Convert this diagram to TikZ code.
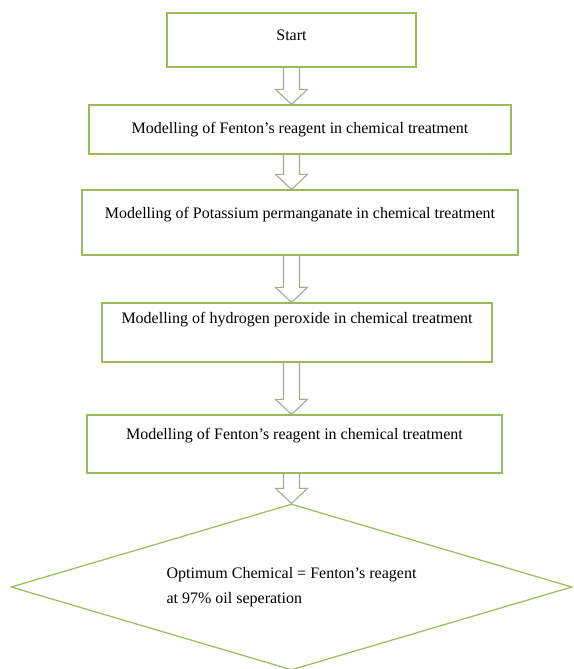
\documentclass[tikz,border=0pt]{standalone}
\usepackage{fontspec}
\setmainfont{Liberation Serif}
\usetikzlibrary{shapes.geometric, calc}
\definecolor{boxgreen}{RGB}{155,187,89}
\definecolor{arrowgray}{RGB}{160,172,150}
\tikzset{
stepbox/.style={draw=boxgreen, line width=1.2pt, fill=white, inner sep=0pt, font=\fontsize{16}{20}\selectfont}, % the process boxes
decision/.style={diamond, draw=boxgreen, line width=1.2pt, inner sep=0pt, align=left, font=\fontsize{16}{25}\selectfont}, % the final diamond
hollowarrow/.style={draw=arrowgray, line width=1.1pt, line join=miter}, % block arrows between the steps
}
% hollow block arrow from the bottom of #1 down to the top of #2, in line with the start box
\newcommand{\flowarrow}[2]{%
  \draw[hollowarrow] let \p0=(start.center), \p1=(#1.south), \p2=(#2.north) in
    (\x0-8pt,\y1) -- (\x0-8pt,\y2+15pt) -- (\x0-16pt,\y2+15pt) -- (\x0,\y2)
    -- (\x0+16pt,\y2+15pt) -- (\x0+8pt,\y2+15pt) -- (\x0+8pt,\y1);}

\begin{document}
\begin{tikzpicture}[x=1pt, y=-1pt]
                \useasboundingbox (0,0) rectangle (573,669);
                \node[stepbox, minimum width=249pt, text height=28pt, text depth=26pt] (start) at (291.5,40) {Start};
                \node[stepbox, minimum width=422pt, text height=28pt, text depth=21pt] (fenton) at (300,129.5) {Modelling of Fenton's reagent in chemical treatment};
                \node[stepbox, minimum width=436pt, text height=28pt, text depth=37pt] (permanganate) at (300,222.5) {Modelling of Potassium permanganate in chemical treatment};
                \node[stepbox, minimum width=390pt, text height=20pt, text depth=39pt] (peroxide) at (297,332.5) {Modelling of hydrogen peroxide in chemical treatment};
                \node[stepbox, minimum width=415pt, text height=24pt, text depth=34pt] (fentonb) at (294.5,444) {Modelling of Fenton's reagent in chemical treatment};
                \node[decision, aspect=3.38, minimum width=561pt, minimum height=166pt] (optimum) at (291.5,587) {Optimum Chemical = Fenton's reagent\\at 97\% oil seperation};
                \flowarrow{start}{fenton}
                \flowarrow{fenton}{permanganate}
                \flowarrow{permanganate}{peroxide}
                \flowarrow{peroxide}{fentonb}
                \flowarrow{fentonb}{optimum}
\end{tikzpicture}
\end{document}
